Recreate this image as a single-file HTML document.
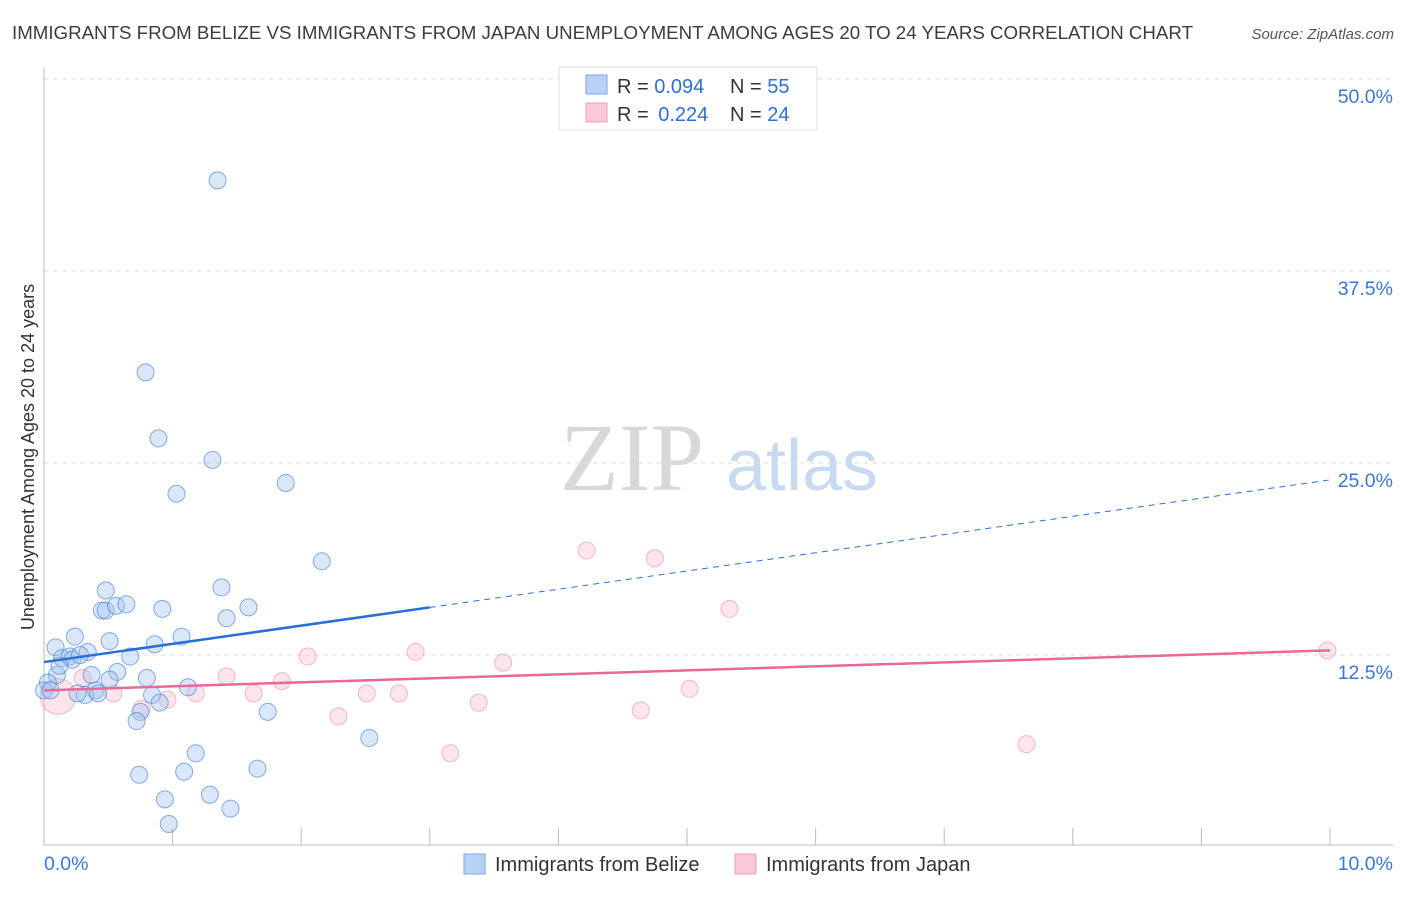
<!DOCTYPE html>
<html><head><meta charset="utf-8"><style>
body{margin:0;background:#fff;width:1406px;height:892px;overflow:hidden;font-family:"Liberation Sans",sans-serif}
</style></head><body>
<svg id="chart" width="1406" height="892" xmlns="http://www.w3.org/2000/svg" font-family="Liberation Sans, sans-serif">
<text x="12" y="39" font-size="18" fill="#3c3c3c" textLength="1181" lengthAdjust="spacingAndGlyphs">IMMIGRANTS FROM BELIZE VS IMMIGRANTS FROM JAPAN UNEMPLOYMENT AMONG AGES 20 TO 24 YEARS CORRELATION CHART</text>
<text x="1394" y="39" font-size="15" fill="#555" text-anchor="end" font-style="italic">Source: ZipAtlas.com</text>
<g>
<text x="632" y="490" font-size="96" fill="#d8d8d8" text-anchor="middle" font-family="Liberation Serif, serif">ZIP</text>
<text x="802" y="490" font-size="72" fill="#c8daf0" text-anchor="middle">atlas</text>
</g>
<g id="grid"></g>
<g id="axes"></g>
<g id="marks"></g>
<text transform="translate(34,457) rotate(-90)" font-size="18" fill="#333" text-anchor="middle">Unemployment Among Ages 20 to 24 years</text>
<g>
<rect x="559" y="67" width="258" height="63" fill="#fff" stroke="#ddd"/>
<rect x="586" y="75" width="21" height="19" fill="#b8d2f5" stroke="#7aa6e0"/>
<rect x="586" y="103" width="21" height="19" fill="#fac8d7" stroke="#eea0b8"/>
<text x="617" y="93" font-size="20" fill="#333">R = <tspan fill="#2f6fd0">0.094</tspan></text>
<text x="730" y="93" font-size="20" fill="#333">N = <tspan fill="#2f6fd0">55</tspan></text>
<text x="617" y="121" font-size="20" fill="#333">R = <tspan fill="#2f6fd0" dx="4">0.224</tspan></text>
<text x="730" y="121" font-size="20" fill="#333">N = <tspan fill="#2f6fd0">24</tspan></text>
</g>
<g>
<rect x="464" y="854" width="21" height="20" fill="#b8d2f5" stroke="#7aa6e0"/>
<text x="495" y="871" font-size="20" fill="#333">Immigrants from Belize</text>
<rect x="735" y="854" width="21" height="20" fill="#fac8d7" stroke="#eea0b8"/>
<text x="766" y="871" font-size="20" fill="#333">Immigrants from Japan</text>
</g>
</svg>
<script>
const yTicks=[12.5,25,37.5,50];
const yTickLabels=["12.5%","25.0%","37.5%","50.0%"];
const xTickLabels=["0.0%","10.0%"];
const belizeX=[1.35,0.79,0.89,1.31,1.03,1.88,2.16,0.48,1.38,0.45,0.48,0.56,0.64,0.92,1.59,1.42,0.24,0.51,0.86,1.07,0.09,0.14,0.20,0.22,0.34,0.28,0.67,0.37,0.10,0.57,0.80,0.03,0.40,0.32,0.42,0.84,1.12,0.90,0.26,0.51,0.75,0.72,1.74,2.53,1.18,1.09,0.74,1.66,0.94,1.29,1.45,0.97,0.0,0.05,0.12];
const belizeY=[43.4,30.9,26.6,25.2,23.0,23.7,18.6,16.7,16.9,15.4,15.4,15.7,15.8,15.5,15.6,14.9,13.7,13.4,13.2,13.7,13.0,12.3,12.4,12.2,12.7,12.5,12.4,11.2,11.2,11.4,11.0,10.7,10.2,9.9,10.0,9.9,10.4,9.4,10.0,10.9,8.8,8.2,8.8,7.1,6.1,4.9,4.7,5.1,3.1,3.4,2.5,1.5,10.2,10.2,11.8];
const japanX=[4.22,4.75,5.33,2.05,2.89,3.57,1.85,1.42,1.63,2.51,2.76,1.18,0.96,0.54,2.29,3.38,4.64,5.02,3.16,7.64,9.98,0.11,0.30,0.76];
const japanY=[19.3,18.8,15.5,12.4,12.7,12.0,10.8,11.1,10.0,10.0,10.0,10.0,9.6,10.0,8.5,9.4,8.9,10.3,6.1,6.7,12.8,9.8,11.0,9.0];
const japanSize=[1,1,1,1,1,1,1,1,1,1,1,1,1,1,1,1,1,1,1,1,1,2.1,1,1];
const belizeTrend=[12.04,23.9];
const japanTrend=[10.2,12.8];
const belizeSolidEnd=3.0;

const NS="http://www.w3.org/2000/svg";
const X=v=>44+v*128.6;
const Y=v=>847-v*15.36;
function mk(tag,attrs,parent){const e=document.createElementNS(NS,tag);for(const k in attrs)e.setAttribute(k,attrs[k]);parent.appendChild(e);return e;}
const grid=document.getElementById('grid'),axes=document.getElementById('axes'),marks=document.getElementById('marks');
yTicks.forEach((t,i)=>{
  const g=mk('line',{x1:44,x2:1393,y1:Y(t),y2:Y(t),stroke:'#ddd','stroke-dasharray':'5,4'},grid);
  
  
  const l=mk('text',{x:1393,y:Y(t)+24,'font-size':19.5,fill:'#3a78d0','text-anchor':'end'},axes);
  l.textContent=yTickLabels[i];
  
  
});
const ax=mk('line',{x1:44,x2:44,y1:68,y2:845,stroke:'#bbb'},axes);


const bx=mk('line',{x1:44,x2:1393,y1:845,y2:845,stroke:'#bbb'},axes);


for(let i=0;i<=10;i++){
  const t=mk('line',{x1:X(i),x2:X(i),y1:828,y2:845,stroke:'#bbb'},axes);
  
  
}
[[0,'start',44],[10,'end',1393]].forEach((d,i)=>{
  const l=mk('text',{x:d[2],y:870,'font-size':19.5,fill:'#3a78d0','text-anchor':d[1]},axes);
  l.textContent=xTickLabels[i];
  
  
});
japanX.forEach((x,i)=>{
  const c=mk('circle',{cx:X(x),cy:Y(japanY[i]),r:8.5*japanSize[i],fill:'rgba(248,180,200,0.35)',stroke:'rgba(235,140,170,0.6)','stroke-width':1},marks);
  
  
});
belizeX.forEach((x,i)=>{
  const c=mk('circle',{cx:X(x),cy:Y(belizeY[i]),r:8.5,fill:'rgba(160,195,240,0.4)',stroke:'rgba(70,130,215,0.65)','stroke-width':1},marks);
  
  
});
const by=x=>belizeTrend[0]+(belizeTrend[1]-belizeTrend[0])*x/10;
const l1=mk('line',{x1:X(0),y1:Y(by(0)),x2:X(belizeSolidEnd),y2:Y(by(belizeSolidEnd)),stroke:'#2a6fd6','stroke-width':2.5},marks);


const l2=mk('line',{x1:X(belizeSolidEnd),y1:Y(by(belizeSolidEnd)),x2:X(10),y2:Y(by(10)),stroke:'#2a6fd6','stroke-width':1,'stroke-dasharray':'6,5'},marks);


const l3=mk('line',{x1:X(0),y1:Y(japanTrend[0]),x2:X(10),y2:Y(japanTrend[1]),stroke:'#e8689a','stroke-width':2.5},marks);


</script>
</body></html>
